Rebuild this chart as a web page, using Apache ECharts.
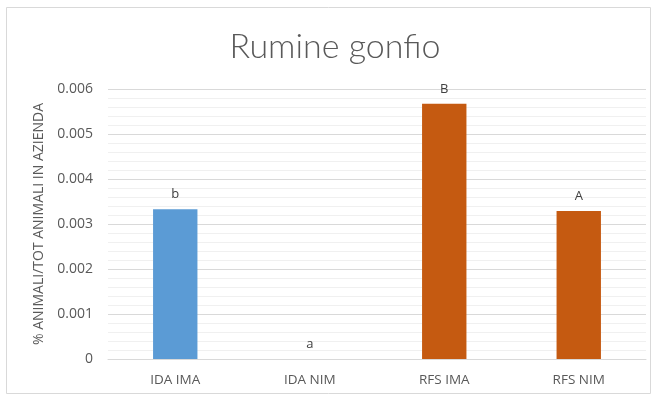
<!DOCTYPE html>
<html><head><meta charset="utf-8">
<script src="https://cdn.jsdelivr.net/npm/echarts@6/dist/echarts.min.js"></script>
<style>html,body{margin:0;padding:0;background:#fff}#c{width:654px;height:396px}</style>
</head><body><div id="c"></div>
<script>
const categories = ['IDA IMA', 'IDA NIM', 'RFS IMA', 'RFS NIM'];
const values = [0.00333, 0, 0.00567, 0.00329];
const letters = ['b', 'a', 'B', 'A'];
const barColors = ['#5b9bd5', '#5b9bd5', '#c55a11', '#c55a11'];
const yTicks = { min: 0, max: 0.006, interval: 0.001 };

const chart = echarts.init(document.getElementById('c'));
chart.setOption({
  animation: false,
  backgroundColor: '#fff',
  graphic: [
    { type: 'rect', shape: { x: 6.5, y: 7.5, width: 644, height: 386 }, style: { fill: 'none', stroke: '#d9d9d9', lineWidth: 1 } },
    { type: 'text', x: 335, y: 30, style: { text: 'Rumine gonfio', fontFamily: 'Lato', fontWeight: 300, fontSize: 34, fill: '#595959', textAlign: 'center', textVerticalAlign: 'top' } }
  ],
  grid: { left: 108, right: 8, top: 89, bottom: 37 },
  xAxis: {
    type: 'category', data: categories,
    axisLine: { lineStyle: { color: '#d9d9d9', width: 1 } },
    axisTick: { show: false },
    axisLabel: { color: '#595959', fontSize: 13.5, fontFamily: 'Open Sans', margin: 14 }
  },
  yAxis: {
    type: 'value', min: yTicks.min, max: yTicks.max, interval: yTicks.interval,
    name: '% ANIMALI/TOT ANIMALI IN AZIENDA', nameLocation: 'middle', nameGap: 60,
    nameTextStyle: { color: '#595959', fontSize: 14, fontFamily: 'Open Sans' },
    axisLabel: { color: '#595959', fontSize: 14, fontFamily: 'Open Sans', margin: 15,
      formatter: v => v === 0 ? '0' : v.toFixed(3) },
    axisLine: { show: false }, axisTick: { show: false },
    splitLine: { lineStyle: { color: '#d9d9d9', width: 1 } },
    minorTick: { show: false, splitNumber: 5 },
    minorSplitLine: { show: true, lineStyle: { color: '#f0f0f0', width: 1 } }
  },
  series: [{
    type: 'bar', barWidth: '33%',
    data: values.map((v, i) => ({ value: v, itemStyle: { color: barColors[i] },
      label: { formatter: letters[i] } })),
    label: { show: true, position: 'top', distance: 8, color: '#404040', fontSize: 13, fontFamily: 'Open Sans' }
  }]
});
</script></body></html>
